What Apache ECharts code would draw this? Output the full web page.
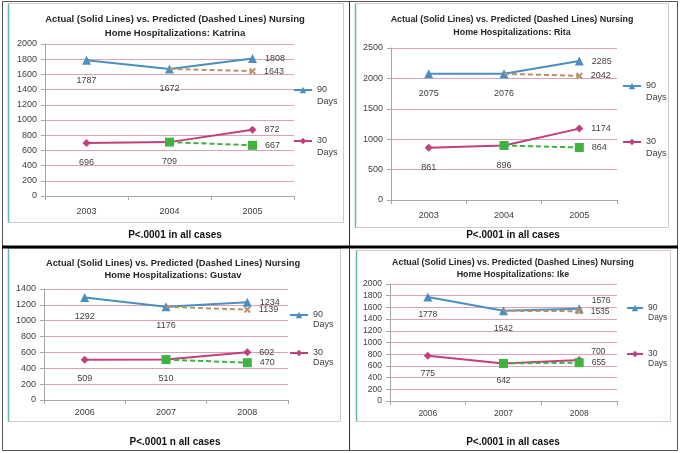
<!DOCTYPE html>
<html>
<head>
<meta charset="utf-8">
<script src="https://cdn.jsdelivr.net/npm/echarts@6/dist/echarts.min.js"></script>
<style>
  html, body { margin: 0; padding: 0; background: #fff; }
  #main { width: 681px; height: 453px; }
</style>
</head>
<body>
<div id="main"></div>
<script>
// categories
const years0305 = ['2003', '2004', '2005'];
const years0608 = ['2006', '2007', '2008'];

// Katrina
const katrina90 = [1787, 1672, 1808];
const katrina90Pred = [null, 1672, 1643];
const katrina30 = [696, 709, 872];
const katrina30Pred = [null, 709, 667];
// Rita
const rita90 = [2075, 2076, 2285];
const rita90Pred = [null, 2076, 2042];
const rita30 = [861, 896, 1174];
const rita30Pred = [null, 896, 864];
// Gustav
const gustav90 = [1292, 1176, 1234];
const gustav90Pred = [null, 1176, 1139];
const gustav30 = [509, 510, 602];
const gustav30Pred = [null, 510, 470];
// Ike
const ike90 = [1778, 1542, 1576];
const ike90Pred = [null, 1542, 1535];
const ike30 = [775, 642, 700];
const ike30Pred = [null, 642, 655];

// y axis ranges
const yMax = [2000, 2500, 1400, 2000];
const yStep = [200, 500, 200, 200];

const titles = [
  'Actual (Solid Lines) vs. Predicted (Dashed Lines) Nursing\nHome Hospitalizations: Katrina',
  'Actual (Solid Lines) vs. Predicted (Dashed Lines) Nursing\nHome Hospitalizations: Rita',
  'Actual (Solid Lines) vs. Predicted (Dashed Lines) Nursing\nHome Hospitalizations: Gustav',
  'Actual (Solid Lines) vs. Predicted (Dashed Lines) Nursing\nHome Hospitalizations: Ike'
];
const captions = [
  'P<.0001 in all cases',
  'P<.0001 in all cases',
  'P<.0001 n all cases',
  'P<.0001 in all cases'
];

const FONT = '"Liberation Sans", Arial, sans-serif';
const BLUE = '#4a8fc2';
const PINK = '#c23f7e';
const TAN = '#b8926a';
const GREEN = '#3fb23f';
const TEXT = '#404040';
const X_PATH = 'path://M2,0L5,3L8,0L10,2L7,5L10,8L8,10L5,7L2,10L0,8L3,5L0,2Z';

const panels = [
  { cats: years0305, a90: katrina90, p90: katrina90Pred, a30: katrina30, p30: katrina30Pred,
    grid: { left: 45, top: 44, width: 249, height: 152 }, fs: 9, lblMargin: 11, below: 11,
    lastLift: 0, legend: { left: 293, top: 72, gap: 15, w: 18, lh: 12 },
    title: [175, 26, 14, 9.5], caption: [175, 235] },
  { cats: years0305, a90: rita90, p90: rita90Pred, a30: rita30, p30: rita30Pred,
    grid: { left: 391, top: 48, width: 226, height: 152 }, fs: 9, lblMargin: 11, below: 11,
    lastLift: 0, legend: { left: 622, top: 68, gap: 20, w: 18, lh: 12 },
    title: [512, 26.5, 13, 8.9], caption: [513, 235] },
  { cats: years0608, a90: gustav90, p90: gustav90Pred, a30: gustav30, p30: gustav30Pred,
    grid: { left: 44, top: 289, width: 244, height: 111 }, fs: 9, lblMargin: 8, below: 10,
    lastLift: 0, legend: { left: 289, top: 300, gap: 8, w: 18, lh: 10 },
    title: [173, 269, 12, 9.3], caption: [175, 442] },
  { cats: years0608, a90: ike90, p90: ike90Pred, a30: ike30, p30: ike30Pred,
    grid: { left: 390, top: 284, width: 227, height: 117 }, fs: 8.5, lblMargin: 8, below: 9,
    lastLift: -8, legend: { left: 626, top: 293, gap: 16, w: 16, lh: 10 },
    title: [513, 269, 12, 8.85], caption: [513, 442] }
];

const grids = [], xAxes = [], yAxes = [], series = [], legends = [], graphics = [];

function actual(idx, p, name, values, color, symbol, size) {
  return {
    type: 'line', name: name, xAxisIndex: idx, yAxisIndex: idx,
    symbol: symbol, symbolSize: size,
    lineStyle: { color: color, width: 2 },
    itemStyle: { color: color },
    label: { show: true, color: TEXT, fontSize: p.fs, fontFamily: FONT },
    data: values.map((v, i) => ({
      value: v,
      label: i === values.length - 1
        ? { position: 'right', distance: 8, offset: [0, p.lastLift] }
        : { position: 'bottom', distance: p.below }
    })),
    z: 3
  };
}

function predicted(idx, p, name, values, color, symbols, size) {
  return {
    type: 'line', name: name, xAxisIndex: idx, yAxisIndex: idx,
    symbolSize: size,
    lineStyle: { color: color, width: 2, type: [5, 3] },
    itemStyle: { color: color },
    label: { show: false, color: TEXT, fontSize: p.fs, fontFamily: FONT, position: 'right', distance: 8 },
    data: values.map((v, i) => v == null ? '-' : {
      value: v,
      symbol: symbols[i],
      label: { show: i === values.length - 1 }
    }),
    z: 4
  };
}

panels.forEach((p, idx) => {
  grids.push(Object.assign({ outerBoundsMode: 'none', containLabel: false }, p.grid));
  xAxes.push({
    type: 'category', gridIndex: idx, data: p.cats, boundaryGap: true,
    axisLine: { lineStyle: { color: '#a6a6a6' } },
    axisTick: { show: true, length: 4, lineStyle: { color: '#a6a6a6' } },
    axisLabel: { color: TEXT, fontSize: p.fs, fontFamily: FONT, margin: p.lblMargin },
    splitLine: { show: false }
  });
  yAxes.push({
    type: 'value', gridIndex: idx, min: 0, max: yMax[idx], interval: yStep[idx],
    axisLine: { show: true, lineStyle: { color: '#a6a6a6' } },
    axisTick: { show: true, length: 4, lineStyle: { color: '#a6a6a6' } },
    axisLabel: { color: TEXT, fontSize: p.fs, fontFamily: FONT, margin: 8, formatter: v => String(v) },
    splitLine: { show: true, lineStyle: { color: '#dca3b6', width: 1 } }
  });
  series.push(actual(idx, p, '90 Days', p.a90, BLUE, 'triangle', 9));
  series.push(predicted(idx, p, '90 Pred', p.p90, TAN, ['none', 'none', X_PATH], 7));
  series.push(actual(idx, p, '30 Days', p.a30, PINK, 'diamond', 8));
  series.push(predicted(idx, p, '30 Pred', p.p30, GREEN, ['none', 'rect', 'rect'], 9));

  // blank first line keeps the icon level with the "90"/"30" line
  legends.push({
    left: p.legend.left, top: p.legend.top, orient: 'vertical', padding: 0,
    itemGap: p.legend.gap, itemWidth: p.legend.w, itemHeight: 8,
    data: ['90 Days', '30 Days'], selectedMode: false,
    formatter: n => '\u00a0\n' + n.replace(' ', '\n'),
    textStyle: { color: TEXT, fontSize: p.fs, fontFamily: FONT, lineHeight: p.legend.lh }
  });

  graphics.push({
    type: 'text', x: p.title[0], y: p.title[1],
    style: { text: titles[idx], align: 'center', verticalAlign: 'middle',
      font: 'bold ' + p.title[3] + 'px ' + FONT, lineHeight: p.title[2], fill: '#262626' }
  });
  graphics.push({
    type: 'text', x: p.caption[0], y: p.caption[1],
    style: { text: captions[idx], align: 'center', verticalAlign: 'middle',
      font: 'bold 10px ' + FONT, fill: '#111' }
  });
});

// chart frames
const frames = [[8.5, 3.5, 335, 219], [355.5, 3.5, 313, 224], [8.5, 248.5, 332, 173], [356.5, 250.5, 314, 171]];
frames.forEach(f => {
  graphics.push({ type: 'rect', shape: { x: f[0], y: f[1], width: f[2], height: f[3] },
    style: { fill: 'none', stroke: '#d4c8cc', lineWidth: 1 } });
  graphics.push({ type: 'line', shape: { x1: f[0], y1: f[1], x2: f[0], y2: f[1] + f[3] },
    style: { stroke: '#63b8b2', lineWidth: 1.5 } });
});
// table lines
graphics.push({ type: 'rect', shape: { x: 2.5, y: 1.5, width: 675, height: 449 },
  style: { fill: 'none', stroke: '#555', lineWidth: 1 } });
graphics.push({ type: 'line', shape: { x1: 349.5, y1: 1.5, x2: 349.5, y2: 450.5 },
  style: { stroke: '#333', lineWidth: 1 } });
graphics.push({ type: 'line', shape: { x1: 2, y1: 247, x2: 678, y2: 247 },
  style: { stroke: '#000', lineWidth: 3 } });

const chart = echarts.init(document.getElementById('main'));
chart.setOption({
  backgroundColor: '#fff',
  animation: false,
  grid: grids,
  xAxis: xAxes,
  yAxis: yAxes,
  legend: legends,
  series: series,
  graphic: graphics
});
</script>
</body>
</html>
